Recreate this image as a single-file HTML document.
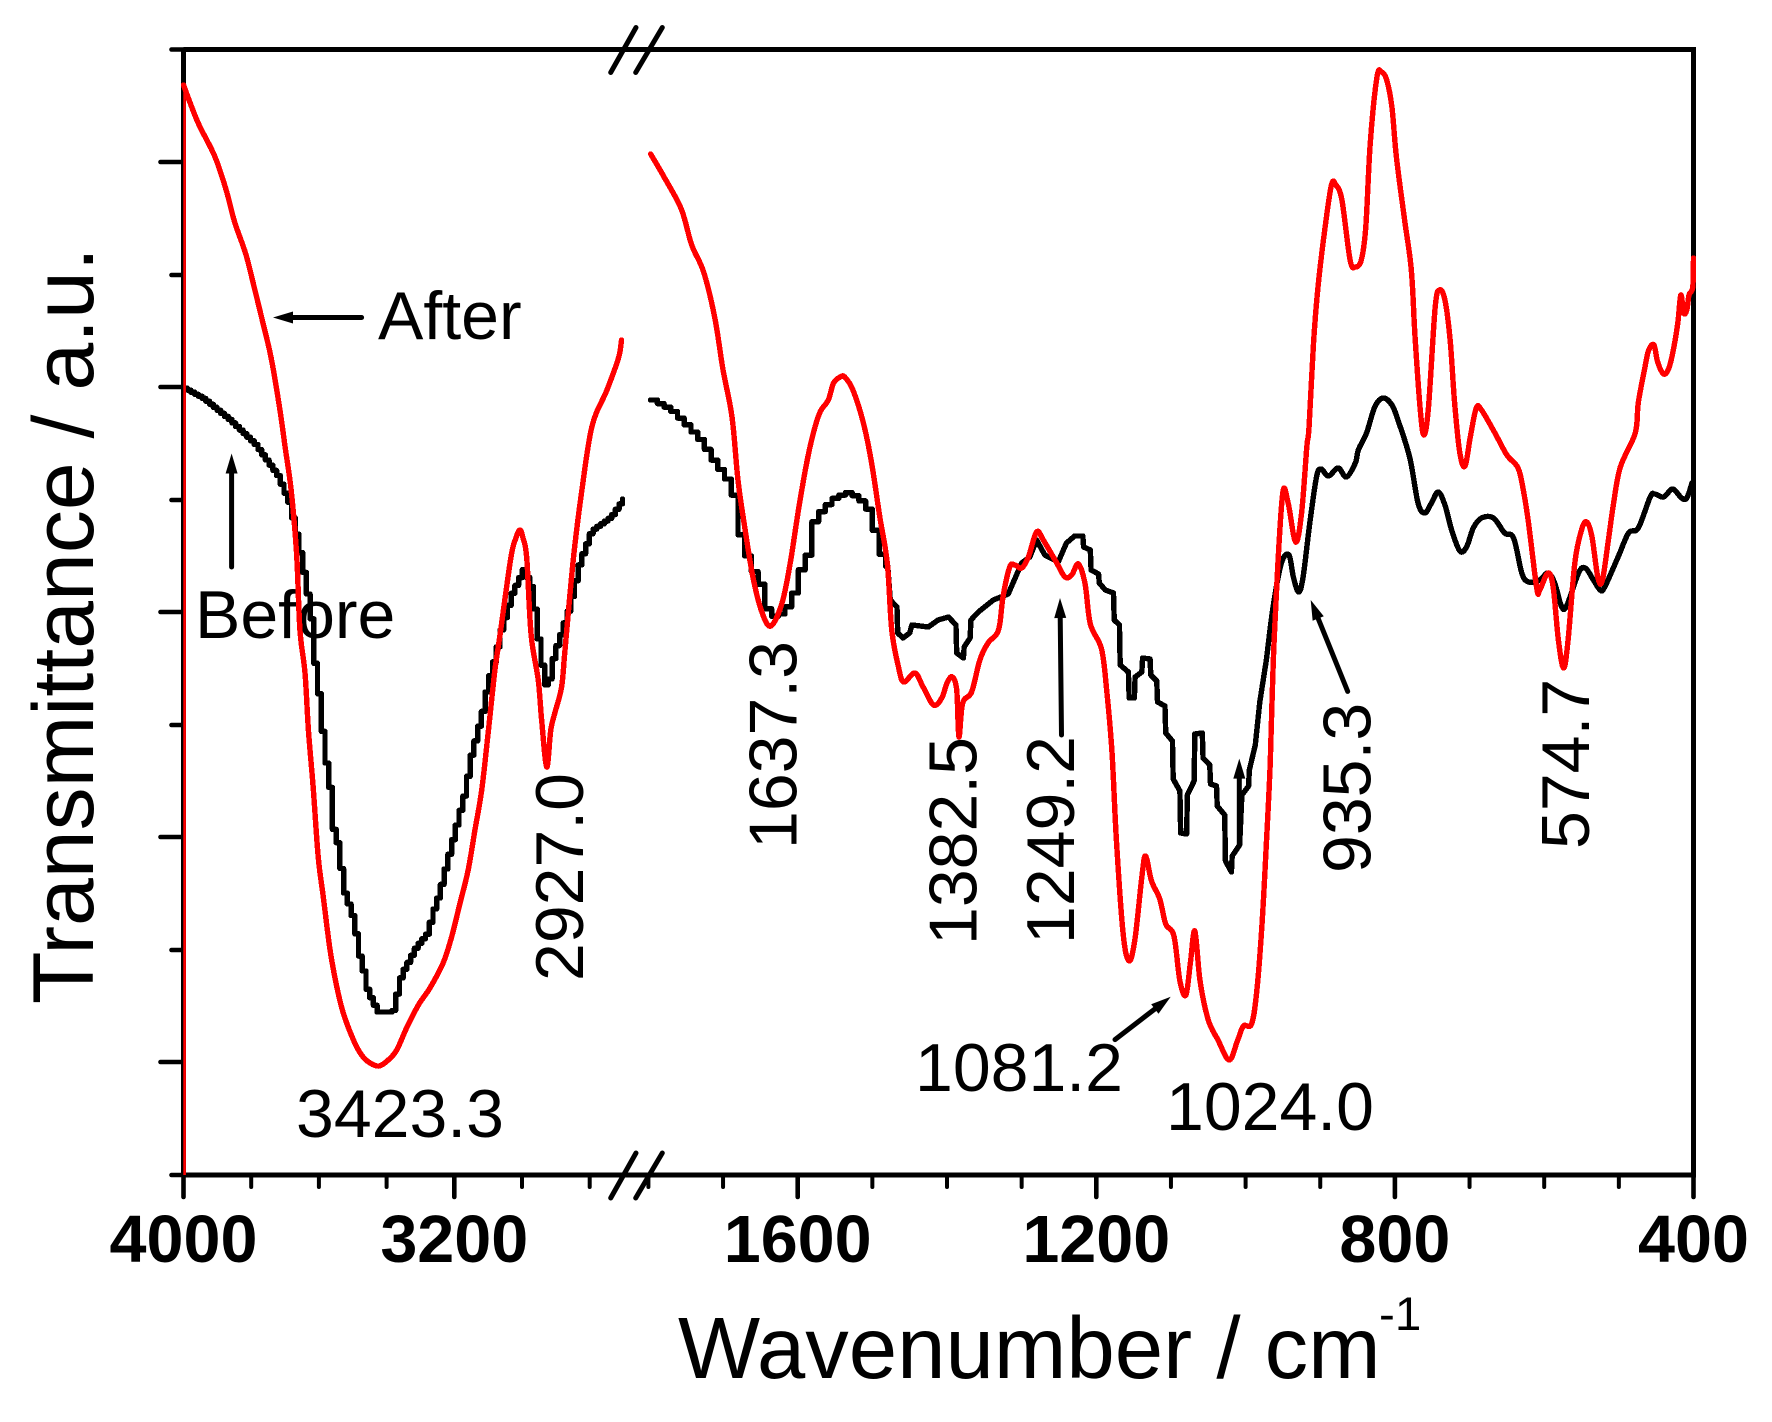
<!DOCTYPE html>
<html lang="en">
<head>
<meta charset="utf-8">
<title>FTIR transmittance spectra before and after</title>
<style>
  html, body { margin: 0; padding: 0; background: #fff; }
  svg { display: block; }
  text { font-family: "Liberation Sans", Arial, sans-serif; fill: #000; }
  .note { font-size: 68px; }
  .ticklabel { font-size: 66.5px; font-weight: bold; text-anchor: middle; }
  .title { font-size: 87px; }
</style>
</head>
<body>
<svg id="chart" xmlns="http://www.w3.org/2000/svg" width="1772" height="1422" viewBox="0 0 1772 1422">
  <g id="axes"></g>
  <g id="notes">
    <text class="note" x="378" y="339">After</text>
    <text class="note" x="195" y="638">Before</text>
    <text class="note" x="400" y="1137" text-anchor="middle">3423.3</text>
    <text class="note" x="1019" y="1091" text-anchor="middle">1081.2</text>
    <text class="note" x="1270" y="1130" text-anchor="middle">1024.0</text>
    <text class="note" transform="translate(583,981) rotate(-90)">2927.0</text>
    <text class="note" transform="translate(796.5,849) rotate(-90)">1637.3</text>
    <text class="note" transform="translate(976.5,945) rotate(-90)">1382.5</text>
    <text class="note" transform="translate(1074,944) rotate(-90)">1249.2</text>
    <text class="note" transform="translate(1370.5,873) rotate(-90)">935.3</text>
    <text class="note" transform="translate(1589,849) rotate(-90)">574.7</text>
  </g>
  <text class="title" x="678" y="1378">Wavenumber / cm</text>
  <text x="1379" y="1330" style="font-size:47.5px">-1</text>
  <text class="title" style="font-size:86px" transform="translate(93,1004) rotate(-90)">Transmittance / a.u.</text>
  <g id="series"></g>
  <g id="arrows"></g>
</svg>
<script>
// ---- data (wavenumber in cm-1, transmittance in arbitrary units) ----
const xMajorTicks = [4000, 3200, 1600, 1200, 800, 400];
const xMinorTicks = [3800, 3600, 3400, 3000, 2800, 1800, 1700, 1500, 1400, 1300, 1100, 1000, 900, 700, 600, 500];
const xTickLabels = ["4000", "3200", "1600", "1200", "800", "400"];
const yMajorTicks = [113, 338, 563, 788, 1013];
const yMinorTicks = [0, 225, 450, 675, 900, 1125.5];

const afterLeftWavenumber = [
  4000,3958,3908,3874,3849,3816,3792,3766,3741,3716,
  3699,3682,3666,3656,3641,3631,3617,3602,3587,3567,
  3547,3528,3498,3474,3449,3422,3395,3370,3341,3306,
  3272,3233,3208,3183,3159,3139,3119,3100,3080,3065,
  3033,3018,3006,2997,2986,2973,2952,2942,2927,2915,
  2903,2883,2873,2848,2823,2793,2749,2715,2706];
const afterLeftT = [
  1090,1053,1019,985,953,921,889,853,817,767,
  726,685,622,545,502,445,388,318,278,225,
  188,162,135,120,112,109,115,125,147,170,
  187,212,238,272,305,345,385,442,505,540,
  617,637,645,637,617,540,495,455,408,445,
  462,488,525,617,685,749,785,817,835];

const beforeLeftWavenumber = [
  4000,3942,3866,3792,3724,3691,3666,3641,3621,3617,
  3606,3597,3587,3572,3562,3543,3533,3513,3498,3488,
  3474,3464,3447,3429,3385,3375,3360,3341,3316,3282,
  3267,3247,3233,3218,3203,3188,3168,3159,3139,3119,
  3104,3080,3065,3033,2998,2973,2948,2929,2908,2894,
  2864,2832,2798,2740,2703];
const beforeLeftT = [
  787,776,755,731,699,672,635,590,545,517,
  488,458,422,392,348,325,288,268,252,225,
  208,188,175,163,163,178,200,212,228,242,
  262,282,302,322,342,362,388,412,438,465,
  492,522,545,581,606,585,517,483,522,535,
  567,613,644,658,676];

const afterRightWavenumber = [
  1797,1779,1756,1742,1726,1711,1700,1688,1680,1671,
  1660,1648,1636,1621,1610,1599,1588,1579,1570,1559,
  1552,1543,1537,1526,1512,1501,1490,1480,1474,1465,
  1458,1443,1432,1418,1407,1400,1393,1387,1384,1379,
  1367,1356,1345,1331,1325,1316,1309,1300,1291,1280,
  1271,1253,1242,1233,1224,1215,1208,1193,1186,1179,
  1173,1164,1156,1148,1139,1134,1126,1115,1107,1096,
  1088,1080,1074,1068,1061,1050,1037,1022,1011,1003,
  992,985,978,972,967,963,957,950,943,933,
  925,918,915,909,903,894,885,879,871,860,
  853,845,839,833,824,818,811,804,798,787,
  778,773,766,761,755,746,740,733,726,720,
  713,706,699,691,684,666,650,635,628,621,
  610,606,595,588,581,574,568,559,550,543,
  536,528,522,514,507,498,478,474,465,460,
  453,448,440,433,427,421,417,413,409,406,
  401,400];
const afterRightT = [
  1021,998,966,930,903,857,805,758,695,648,
  598,563,549,572,612,665,712,742,763,775,
  792,798,798,785,752,712,658,612,545,508,
  493,502,488,470,477,492,498,485,438,472,
  483,515,532,545,578,608,610,607,618,643,
  635,612,598,600,611,591,551,526,484,423,
  334,241,214,237,298,319,294,276,251,239,
  194,180,212,244,194,155,135,115,134,149,
  151,184,251,334,412,512,608,683,672,633,
  662,728,748,832,888,945,990,990,975,915,
  908,915,948,1032,1098,1103,1095,1068,1018,955,
  905,838,765,740,768,868,885,875,835,772,
  722,709,738,767,765,742,720,707,685,652,
  587,585,602,588,535,507,535,612,645,653,
  638,597,595,635,672,708,742,772,808,825,
  830,813,801,807,825,852,880,862,865,880,
  888,917];

const beforeRightWavenumber = [
  1797,1772,1749,1731,1718,1697,1688,1687,1677,1668,
  1651,1646,1633,1619,1608,1601,1588,1587,1579,1568,
  1552,1534,1519,1508,1499,1490,1479,1476,1467,1466,
  1459,1450,1447,1425,1412,1398,1388,1387,1378,1377,
  1369,1368,1358,1338,1318,1311,1300,1289,1280,1269,
  1251,1240,1229,1218,1217,1208,1207,1197,1196,1188,
  1177,1176,1169,1168,1157,1156,1149,1148,1139,1138,
  1128,1127,1119,1118,1108,1107,1098,1097,1088,1087,
  1079,1078,1069,1068,1058,1057,1048,1047,1039,1038,
  1028,1027,1019,1018,1008,1005,996,995,987,981,
  972,963,952,942,936,929,923,914,905,899,
  889,876,865,853,849,838,827,816,804,795,
  780,769,760,751,742,733,724,713,704,695,
  684,668,653,641,630,621,606,595,586,577,
  570,554,545,534,525,519,501,487,474,458,
  452,440,428,416,409,402];
const beforeRightT = [
  775,765,748,733,717,695,678,657,633,612,
  588,568,557,565,582,602,623,642,657,667,
  678,683,675,665,642,618,605,575,568,542,
  537,542,550,548,555,558,550,522,517,528,
  537,555,563,575,581,593,612,618,635,620,
  613,632,639,639,628,625,605,601,592,585,
  582,555,550,510,503,477,477,498,503,517,
  516,500,494,473,469,442,434,396,384,342,
  341,380,394,441,442,417,410,391,389,369,
  360,314,303,319,330,380,389,405,430,473,
  516,569,612,620,598,583,598,652,698,706,
  699,707,698,712,725,742,768,777,770,753,
  717,672,662,672,683,670,645,624,628,647,
  657,657,642,637,602,593,595,602,592,569,
  569,602,607,595,585,588,618,642,647,678,
  681,678,686,677,677,692];

// ---- axis functions ----
const plotLeft = 183.5, plotRight = 1693.5, plotTop = 49.5, plotBottom = 1175;
const leftDomain = [4000, 2800], leftRange = [183.5, 589.7];
const rightDomain = [1800, 400], rightRange = [648.4, 1693.5];
const yDomain = [0, 1125.5];

function xScale(w) {
  const d = w >= 2000 ? leftDomain : rightDomain;
  const r = w >= 2000 ? leftRange : rightRange;
  return r[0] + (w - d[0]) / (d[1] - d[0]) * (r[1] - r[0]);
}
function yScale(t) {
  return plotBottom + (t - yDomain[0]) / (yDomain[1] - yDomain[0]) * (plotTop - plotBottom);
}

const NS = "http://www.w3.org/2000/svg";
const axes = document.getElementById("axes");
const seriesG = document.getElementById("series");
const arrowsG = document.getElementById("arrows");

function line(parent, x1, y1, x2, y2, w, cap) {
  const el = document.createElementNS(NS, "line");
  el.setAttribute("x1", x1);
  el.setAttribute("y1", y1);
  el.setAttribute("x2", x2);
  el.setAttribute("y2", y2);
  el.setAttribute("stroke", "#000");
  el.setAttribute("stroke-width", w);
  el.setAttribute("stroke-linecap", cap || "butt");
  parent.appendChild(el);
  return el;
}

// spines
const spineTop = line(axes, plotLeft, plotTop, plotRight + 2.5, plotTop, 5);


const spineBottom = line(axes, plotLeft, plotBottom, plotRight + 2.5, plotBottom, 5);


const spineLeft = line(axes, plotLeft, plotTop, plotLeft, plotBottom, 5);


const spineRight = line(axes, plotRight, plotTop, plotRight, plotBottom, 5);



// x ticks
xMajorTicks.forEach(function (w, i) {
  const t = line(axes, xScale(w), plotBottom, xScale(w), plotBottom + 22, 4.6, "round");
  
  
  const label = document.createElementNS(NS, "text");
  label.setAttribute("class", "ticklabel");
  label.setAttribute("x", xScale(w));
  label.setAttribute("y", 1262);
  label.textContent = xTickLabels[i];
  
  
  axes.appendChild(label);
});
xMinorTicks.forEach(function (w) {
  const t = line(axes, xScale(w), plotBottom, xScale(w), plotBottom + 12, 4, "round");
  
  
});

// y ticks
yMajorTicks.forEach(function (v) {
  const t = line(axes, plotLeft, yScale(v), plotLeft - 23, yScale(v), 4.6, "round");
  
  
});
yMinorTicks.forEach(function (v) {
  const t = line(axes, plotLeft, yScale(v), plotLeft - 12, yScale(v), 4.6, "round");
  
  
});

// axis break marks
[plotTop, plotBottom].forEach(function (ay) {
  const a = line(axes, 610.7, ay + 23, 636, ay - 22, 5, "round");
  
  
  const b = line(axes, 635.7, ay + 23, 662.3, ay - 22, 5, "round");
  
  
});

// curve builders: the stair-stepped look of the black trace and the smooth red trace
function valueAt(ws, ts, w) {
  for (let i = 0; i < ws.length - 1; i++) {
    if (w <= ws[i] && w >= ws[i + 1]) {
      return ts[i] + (ts[i + 1] - ts[i]) * (ws[i] - w) / (ws[i] - ws[i + 1]);
    }
  }
  return ts[ts.length - 1];
}
function stepPath(ws, ts, from, to, grid) {
  let d = "", px = null, py = null;
  for (let w = from; ; w -= grid) {
    const cur = Math.max(w, to);
    const x = xScale(cur), y = yScale(valueAt(ws, ts, cur));
    if (px === null) { d += "M" + x.toFixed(1) + " " + y.toFixed(1); }
    else { d += " L" + x.toFixed(1) + " " + py.toFixed(1) + " L" + x.toFixed(1) + " " + y.toFixed(1); }
    px = x; py = y;
    if (cur === to) break;
  }
  return d;
}
function polyPath(ws, ts, lead) {
  return ws.map(function (w, i) {
    return (i || lead ? "L" : "M") + xScale(w).toFixed(2) + " " + yScale(ts[i]).toFixed(2);
  }).join(" ");
}
function smoothPath(ws, ts, lead) {
  const p = ws.map(function (w, i) { return [xScale(w), yScale(ts[i])]; });
  let d = (lead ? "L" : "M") + p[0][0].toFixed(2) + " " + p[0][1].toFixed(2);
  for (let i = 0; i < p.length - 1; i++) {
    const a = p[Math.max(i - 1, 0)], b = p[i], c = p[i + 1], e = p[Math.min(i + 2, p.length - 1)];
    d += " C" + (b[0] + (c[0] - a[0]) / 6).toFixed(2) + " " + (b[1] + (c[1] - a[1]) / 6).toFixed(2) +
         " " + (c[0] - (e[0] - b[0]) / 6).toFixed(2) + " " + (c[1] - (e[1] - b[1]) / 6).toFixed(2) +
         " " + c[0].toFixed(2) + " " + c[1].toFixed(2);
  }
  return d;
}
function addCurve(d, colour) {
  const p = document.createElementNS(NS, "path");
  p.setAttribute("d", d);
  p.setAttribute("fill", "none");
  p.setAttribute("stroke", colour);
  p.setAttribute("stroke-width", 5.4);
  p.setAttribute("stroke-linejoin", "round");
  p.setAttribute("stroke-linecap", "round");
  p.setAttribute("shape-rendering", "crispEdges");
  seriesG.appendChild(p);
  return p;
}
function pick(ws, ts, test) {
  const a = [], b = [];
  ws.forEach(function (w, i) { if (test(w)) { a.push(w); b.push(ts[i]); } });
  return [a, b];
}

// black traces
const beforeLeftLine = addCurve(
  stepPath(beforeLeftWavenumber, beforeLeftT, beforeLeftWavenumber[0], beforeLeftWavenumber[beforeLeftWavenumber.length - 1], 11),
  "#000");



const midBefore = pick(beforeRightWavenumber, beforeRightT, function (w) { return w <= 1479 && w >= 972; });
const lowBefore = pick(beforeRightWavenumber, beforeRightT, function (w) { return w <= 972; });
const beforeRightPath =
  stepPath(beforeRightWavenumber, beforeRightT, beforeRightWavenumber[0], 1479, 9) + " " +
  polyPath(midBefore[0], midBefore[1], true) + " " +
  smoothPath(lowBefore[0], lowBefore[1], true);
const beforeRightLine = addCurve(beforeRightPath, "#000");



// red edge and traces
const redEdge = line(seriesG, plotLeft + 1.1, yScale(afterLeftT[0]), plotLeft + 1.1, plotBottom, 2.6);
redEdge.setAttribute("stroke", "#f00");



const afterLeftLine = addCurve(smoothPath(afterLeftWavenumber, afterLeftT, false), "#f00");


const afterRightLine = addCurve(smoothPath(afterRightWavenumber, afterRightT, false), "#f00");



// annotation arrows
function arrow(x1, y1, x2, y2) {
  const g = document.createElementNS(NS, "g");
  const dx = x2 - x1, dy = y2 - y1, len = Math.hypot(dx, dy);
  const ux = dx / len, uy = dy / len, head = 20, half = 6;
  const bx = x2 - ux * head, by = y2 - uy * head;
  line(g, x1, y1, bx, by, 5, "round");
  const tri = document.createElementNS(NS, "polygon");
  tri.setAttribute("points", [
    x2 + "," + y2,
    (bx - uy * half) + "," + (by + ux * half),
    (bx + uy * half) + "," + (by - ux * half)
  ].join(" "));
  tri.setAttribute("fill", "#000");
  g.appendChild(tri);
  arrowsG.appendChild(g);
  return g;
}
const afterArrow = arrow(361.6, 317.5, 273, 317.5);


const beforeArrow = arrow(231.6, 567, 231.6, 453.5);


const arrow1249 = arrow(1061.5, 735, 1060, 598);


const arrow1081 = arrow(1115, 1039.6, 1170.7, 996.8);


const arrow1024 = arrow(1239.3, 845, 1239.3, 758.6);


const arrow935 = arrow(1347.7, 691.4, 1310.7, 600);


</script>
</body>
</html>
